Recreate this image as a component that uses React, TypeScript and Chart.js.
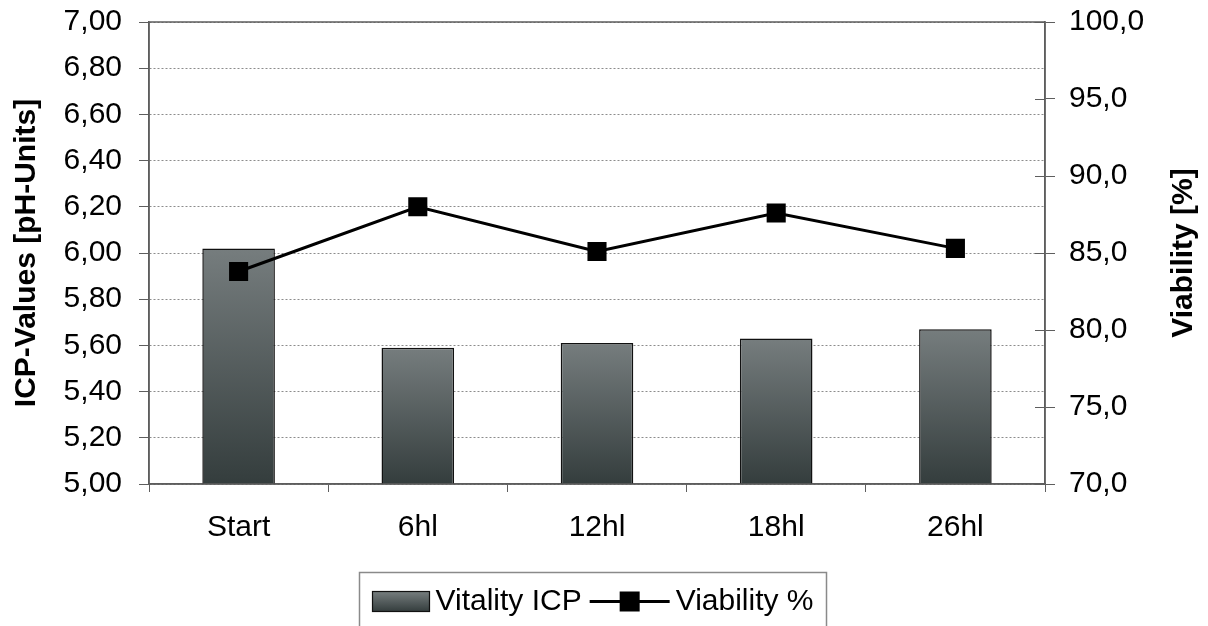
import React, { useEffect, useRef } from 'react';
import { Chart, registerables } from 'chart.js';

Chart.register(...registerables);

const categories = ['Start', '6hl', '12hl', '18hl', '26hl'];
const vitalityICP = [6.02, 5.59, 5.61, 5.63, 5.67];
const viability = [83.8, 88.0, 85.1, 87.6, 85.3];

const leftMin = 5;
const leftMax = 7;
const leftStep = 0.2;
const rightMin = 70;
const rightMax = 100;
const rightStep = 5;

const leftTitle = 'ICP-Values [pH-Units]';
const rightTitle = 'Viability [%]';
const barLabel = 'Vitality ICP';
const lineLabel = 'Viability %';

const FONT = "'Liberation Sans', Arial, Helvetica, sans-serif";
const GRAD_TOP = '#767d7e';
const GRAD_BOTTOM = '#343d3d';
const AXIS = '#5e5e5e';

function barGradient(ctx: CanvasRenderingContext2D, top: number, bottom: number) {
  const g = ctx.createLinearGradient(0, top, 0, bottom);
  g.addColorStop(0, GRAD_TOP);
  g.addColorStop(1, GRAD_BOTTOM);
  return g;
}

const framePlugin = {
  id: 'frameAndLegend',
  afterDraw(chart: any) {
    const { ctx, chartArea: a } = chart;
    ctx.save();
    // plot frame
    ctx.strokeStyle = AXIS;
    ctx.lineWidth = 1.5;
    ctx.setLineDash([]);
    ctx.strokeRect(a.left, a.top, a.right - a.left, a.bottom - a.top);
    // inner part of right axis tick marks
    const y1 = chart.scales.y1;
    ctx.lineWidth = 1;
    y1.ticks.forEach((_t: any, i: number) => {
      const py = Math.round(y1.getPixelForTick(i)) + 0.5;
      ctx.beginPath();
      ctx.moveTo(a.right - 10, py);
      ctx.lineTo(a.right, py);
      ctx.stroke();
    });
    // right title (reads bottom to top)
    ctx.save();
    ctx.translate(chart.width - 24, (a.top + a.bottom) / 2);
    ctx.rotate(-Math.PI / 2);
    ctx.font = `bold 30px ${FONT}`;
    ctx.fillStyle = '#000';
    ctx.textAlign = 'center';
    ctx.textBaseline = 'middle';
    ctx.fillText(rightTitle, 0, 0);
    ctx.restore();

    // legend
    ctx.font = `30px ${FONT}`;
    const w1 = ctx.measureText(barLabel).width;
    const w2 = ctx.measureText(lineLabel).width;
    const sw = 57, gap = 6, lineW = 80, itemGap = 8, pad = 13;
    const total = pad + sw + gap + w1 + itemGap + lineW + gap + w2 + pad;
    const cx = (a.left + a.right) / 2 - 4;
    const bx = Math.round(cx - total / 2) + 0.5;
    const by = a.bottom + 88.5;
    const ty = by + 29;
    ctx.strokeStyle = '#8a8a8a';
    ctx.lineWidth = 1.5;
    ctx.strokeRect(bx, by, total, 80);
    // swatch
    let x = bx + pad;
    ctx.fillStyle = barGradient(ctx, ty - 10, ty + 10);
    ctx.fillRect(x, ty - 10, sw, 20);
    ctx.strokeStyle = '#111';
    ctx.lineWidth = 1.2;
    ctx.strokeRect(x, ty - 10, sw, 20);
    x += sw + gap;
    ctx.fillStyle = '#000';
    ctx.textAlign = 'left';
    ctx.textBaseline = 'middle';
    ctx.fillText(barLabel, x, ty);
    x += w1 + itemGap;
    // line marker
    ctx.strokeStyle = '#000';
    ctx.lineWidth = 3;
    ctx.beginPath();
    ctx.moveTo(x, ty);
    ctx.lineTo(x + lineW, ty);
    ctx.stroke();
    ctx.fillRect(x + lineW / 2 - 10, ty - 10, 20, 20);
    x += lineW + gap;
    ctx.fillText(lineLabel, x, ty);
    ctx.restore();
  },
};

export default function App() {
  const ref = useRef<HTMLCanvasElement | null>(null);

  useEffect(() => {
    if (!ref.current) return;
    const chart = new Chart(ref.current, {
      type: 'bar',
      data: {
        labels: categories,
        datasets: [
          {
            type: 'line',
            label: lineLabel,
            data: viability,
            yAxisID: 'y1',
            order: 0,
            borderColor: '#000',
            borderWidth: 3,
            tension: 0,
            pointStyle: 'rect',
            pointRadius: 13.5,
            pointHoverRadius: 13.5,
            pointBackgroundColor: '#000',
            pointBorderWidth: 0,
          } as any,
          {
            type: 'bar',
            label: barLabel,
            data: vitalityICP,
            yAxisID: 'y',
            order: 1,
            categoryPercentage: 1,
            barPercentage: 0.405,
            borderColor: '#111',
            borderWidth: 1.5,
            borderSkipped: 'bottom',
            backgroundColor: (c: any) => {
              const chart = c.chart;
              const ys = chart.scales?.y;
              if (!chart.chartArea || !ys || c.raw == null) return GRAD_BOTTOM;
              const top = ys.getPixelForValue(c.raw);
              const bottom = ys.getPixelForValue(leftMin);
              return barGradient(chart.ctx, top, bottom);
            },
          } as any,
        ],
      },
      options: {
        responsive: false,
        animation: false,
        layout: { padding: { top: 22, bottom: 80, left: 0, right: 0 } },
        plugins: {
          legend: { display: false },
          tooltip: { enabled: false },
        },
        scales: {
          x: {
            offset: true,
            grid: {
              offset: true,
              drawOnChartArea: false,
              drawTicks: true,
              tickLength: 8,
              tickColor: AXIS,
              tickWidth: 1,
            },
            border: { display: true, color: AXIS, width: 1.5 },
            ticks: {
              padding: 18,
              color: '#000',
              font: { family: FONT, size: 30 },
              maxRotation: 0,
            },
            afterFit: (s: any) => {
              s.height = 62;
            },
          },
          y: {
            position: 'left',
            min: leftMin,
            max: leftMax,
            ticks: {
              stepSize: leftStep,
              padding: 17,
              color: '#000',
              font: { family: FONT, size: 30 },
              callback: (v: any) => Number(v).toFixed(2).replace('.', ','),
            },
            grid: {
              color: '#8c8c8c',
              lineWidth: 1,
              drawTicks: true,
              tickLength: 10,
              tickColor: AXIS,
              tickWidth: 1,
              tickBorderDash: [],
            },
            border: { display: true, color: AXIS, width: 1.5, dash: [2, 2] },
            title: {
              display: true,
              text: leftTitle,
              color: '#000',
              font: { family: FONT, size: 30, weight: 'bold' },
              padding: { top: 9, bottom: 0 },
            },
            afterFit: (s: any) => {
              s.width = 149;
              s.paddingTop = 0;
              s.paddingBottom = 0;
            },
          },
          y1: {
            position: 'right',
            min: rightMin,
            max: rightMax,
            ticks: {
              stepSize: rightStep,
              padding: 14,
              color: '#000',
              font: { family: FONT, size: 30 },
              callback: (v: any) => Number(v).toFixed(1).replace('.', ','),
            },
            grid: {
              drawOnChartArea: false,
              drawTicks: true,
              tickLength: 10,
              tickColor: AXIS,
              tickWidth: 1,
            },
            border: { display: true, color: AXIS, width: 1.5 },
            afterFit: (s: any) => {
              s.width = 163;
              s.paddingTop = 0;
              s.paddingBottom = 0;
            },
          },
        },
      } as any,
      plugins: [framePlugin],
    });
    return () => chart.destroy();
  }, []);

  return (
    <div style={{ position: 'fixed', left: 0, top: 0, width: 1208, height: 626, background: '#fff' }}>
      <canvas ref={ref} width={1208} height={626} style={{ display: 'block' }} />
    </div>
  );
}
